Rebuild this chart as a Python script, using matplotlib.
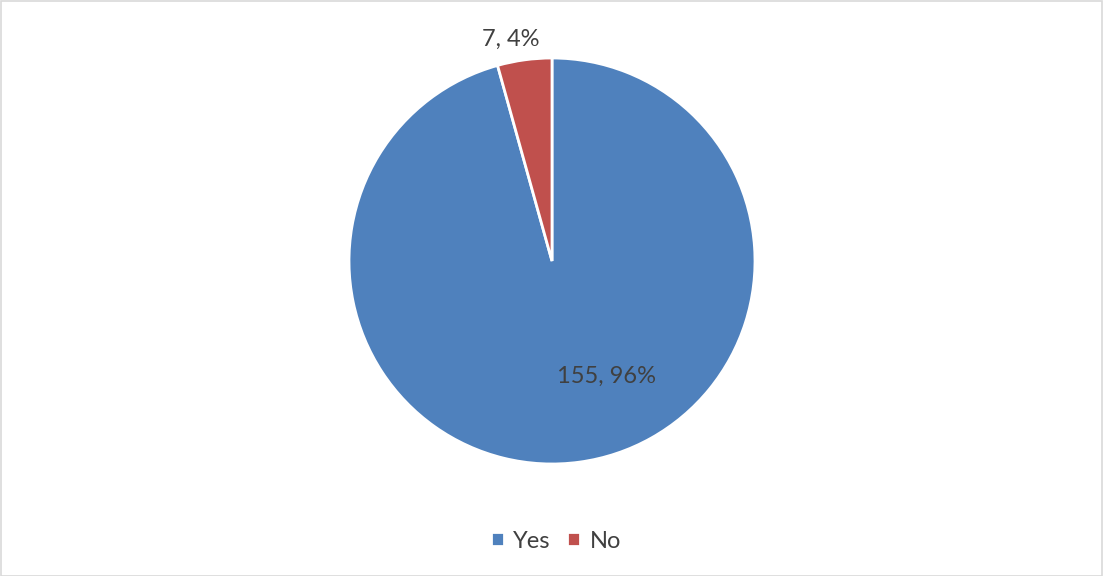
import matplotlib
matplotlib.use("Agg")
import matplotlib.pyplot as plt
from matplotlib.patches import Rectangle

categories = ["Yes", "No"]
values = [155, 7]
colors = ["#4F81BD", "#C0504D"]

plt.rcParams['font.family'] = ['Lato', 'DejaVu Sans']
TXT = "#404040"

W, H = 1103, 576
fig = plt.figure(figsize=(W / 100, H / 100), dpi=100)
fig.patch.set_facecolor("white")
fig.patches.append(Rectangle((0.5 / W, 0.5 / H), 1 - 1.5 / W, 1 - 1.5 / H,
                             transform=fig.transFigure, fill=False,
                             edgecolor="#D9D9D9", linewidth=1.2))

cx, cy, r = 552, 261, 203
ax = fig.add_axes([(cx - r) / W, (H - cy - r) / H, 2 * r / W, 2 * r / H])
wedges, _ = ax.pie(values, colors=colors, startangle=90, counterclock=False,
                   wedgeprops=dict(edgecolor="white", linewidth=2))
ax.set_xlim(-1, 1)
ax.set_ylim(-1, 1)
ax.set_aspect("equal")
ax.axis("off")

total = sum(values)
labels = [f"{v}, {round(100 * v / total)}%" for v in values]
label_pos = [(0.27, -0.567), (-0.205, 1.09)]
for lab, (x, y) in zip(labels, label_pos):
    ax.text(x, y, lab, ha="center", va="center", fontsize=17, color=TXT)

leg = fig.legend(wedges, categories, loc="center", bbox_to_anchor=(556 / W, 1 - 541 / H),
                 ncol=2, frameon=False, fontsize=17, labelcolor=TXT,
                 handlelength=0.55, handleheight=0.55, handletextpad=0.4,
                 columnspacing=0.7)

fig.savefig("out.png", dpi=100)
